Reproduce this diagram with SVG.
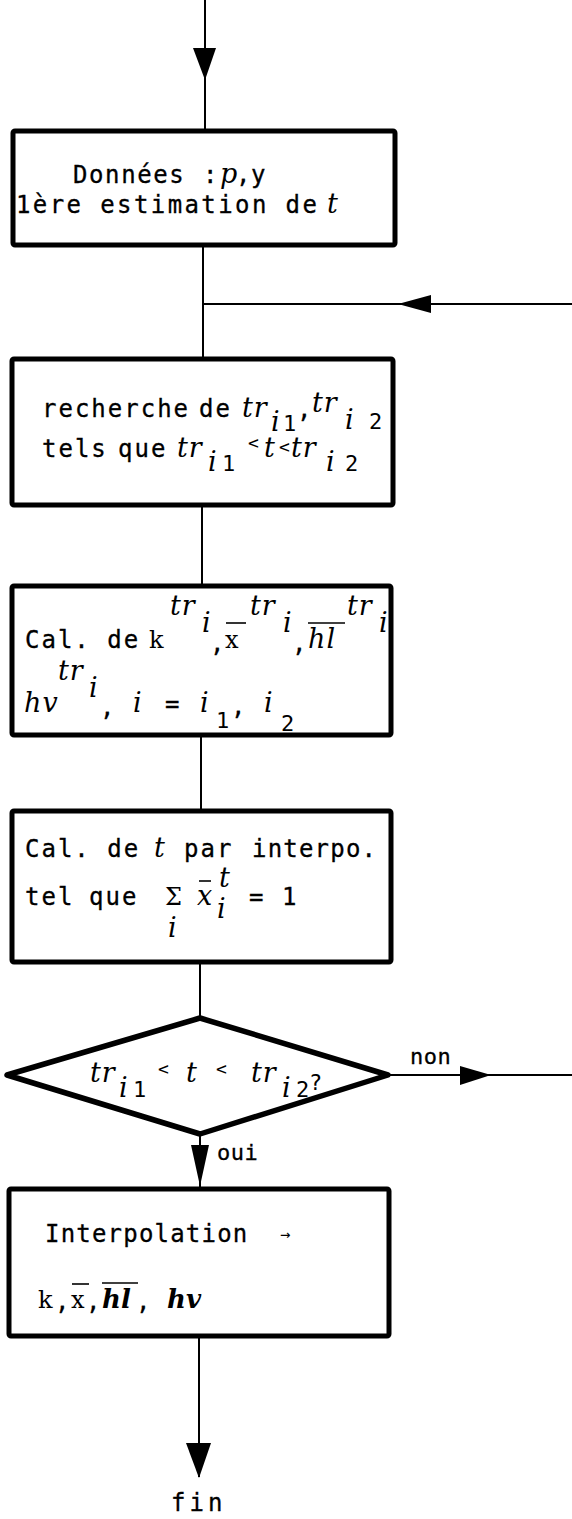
<svg xmlns="http://www.w3.org/2000/svg" width="572" height="1519" viewBox="0 0 572 1519">
<style>
.box{fill:#fff;stroke:#000;stroke-width:5;stroke-linejoin:round}
.ln{fill:none;stroke:#000;stroke-width:2}
.ah{fill:#000;stroke:none}
.bar{stroke:#000;stroke-width:1.6}
.m{font-family:"DejaVu Sans Mono",monospace;font-size:24px;letter-spacing:2px;fill:#000;stroke:#000;stroke-width:0.3}
.i{font-family:"DejaVu Serif",serif;font-style:italic;font-size:27px;letter-spacing:1px;fill:#000}
.r{font-family:"DejaVu Serif",serif;font-size:24px;fill:#000}
.sb{font-family:"DejaVu Sans Mono",monospace;font-size:22px;fill:#000}
.bi{font-family:"DejaVu Serif",serif;font-style:italic;font-weight:bold;font-size:26px;fill:#000}
.c{letter-spacing:0}
</style>
<rect width="572" height="1519" fill="#fff"/>
<g id="connectors">
<line class="ln" x1="205" y1="0" x2="205" y2="131"/>
<polygon class="ah" points="193,48 216,48 205,80"/>
<line class="ln" x1="203" y1="245" x2="203" y2="359"/>
<line class="ln" x1="572" y1="304" x2="203" y2="304"/>
<polygon class="ah" points="398,304 431,295 431,313"/>
<line class="ln" x1="202" y1="505" x2="202" y2="586"/>
<line class="ln" x1="201" y1="735" x2="201" y2="811"/>
<line class="ln" x1="200" y1="962" x2="200" y2="1018"/>
<line class="ln" x1="200" y1="1134" x2="200" y2="1189"/>
<polygon class="ah" points="191,1145 209,1145 200,1186"/>
<text class="m" x="217" y="1160" style="font-size:22px;letter-spacing:0.5px">oui</text>
<line class="ln" x1="388" y1="1075" x2="572" y2="1075"/>
<polygon class="ah" points="460,1066 460,1085 491,1075"/>
<text class="m" x="410" y="1064" style="font-size:22px;letter-spacing:0.5px">non</text>
<line class="ln" x1="199" y1="1336" x2="199" y2="1477"/>
<polygon class="ah" points="186,1443 211,1443 199,1478"/>
</g>
<g id="start-data">
<rect class="box" x="13" y="131" width="382" height="114" rx="2"/>
<text class="m" x="73" y="183" style="letter-spacing:1.6px">Données</text>
<text class="m" x="203" y="183">:</text>
<text class="i" x="220" y="183">p</text>
<text class="m c" x="236" y="183">,</text>
<text class="m" x="251" y="183">y</text>
<text class="m" x="16" y="213" style="letter-spacing:2.4px">1ère estimation de</text>
<text class="i" x="327" y="213">t</text>
</g>
<g id="search">
<rect class="box" x="12" y="359" width="381" height="146" rx="2"/>
<text class="m" x="42" y="417">recherche</text>
<text class="m" x="199" y="417">de</text>
<text class="i" x="242" y="417">tr</text>
<text class="i" x="271" y="431">i</text>
<text class="sb" x="283" y="431">1</text>
<text class="m c" x="297" y="418">,</text>
<text class="i" x="312" y="412">tr</text>
<text class="i" x="345" y="429">i</text>
<text class="sb" x="369" y="429">2</text>
<text class="m" x="42" y="457">tels</text>
<text class="m" x="118" y="457">que</text>
<text class="i" x="177" y="457">tr</text>
<text class="i" x="208" y="471">i</text>
<text class="sb" x="222" y="471">1</text>
<text class="sb" x="248" y="449" style="font-size:18px">&lt;</text>
<text class="i" x="264" y="457">t</text>
<text class="sb" x="279" y="453" style="font-size:18px">&lt;</text>
<text class="i" x="291" y="457">tr</text>
<text class="i" x="326" y="471">i</text>
<text class="sb" x="345" y="471">2</text>
</g>
<g id="compute-props">
<rect class="box" x="12" y="586" width="379" height="149" rx="2"/>
<text class="m" x="25" y="648">Cal. de</text>
<text class="r" x="149" y="648">k</text>
<text class="i" x="170" y="615">tr</text>
<text class="i" x="202" y="632">i</text>
<text class="m c" x="210" y="652">,</text>
<text class="r" x="225" y="648">x</text>
<line class="bar" x1="226" y1="623" x2="246" y2="623"/>
<text class="i" x="250" y="615">tr</text>
<text class="i" x="283" y="632">i</text>
<text class="m c" x="292" y="652">,</text>
<text class="i" x="308" y="648">hl</text>
<line class="bar" x1="308" y1="623" x2="345" y2="623"/>
<text class="i" x="347" y="615">tr</text>
<text class="i" x="379" y="632">i</text>
<text class="i" x="58" y="680">tr</text>
<text class="i" x="89" y="697">i</text>
<text class="i" x="24" y="712">hv</text>
<text class="m c" x="100" y="716">,</text>
<text class="i" x="133" y="712">i</text>
<text class="m" x="165" y="712">=</text>
<text class="i" x="200" y="712">i</text>
<text class="sb" x="216" y="728">1</text>
<text class="m c" x="231" y="715">,</text>
<text class="i" x="264" y="712">i</text>
<text class="sb" x="281" y="731">2</text>
</g>
<g id="interpolate-t">
<rect class="box" x="12" y="811" width="379" height="151" rx="2"/>
<text class="m" x="25" y="857">Cal. de</text>
<text class="i" x="154" y="857">t</text>
<text class="m" x="184" y="857">par</text>
<text class="m" x="252" y="857" style="letter-spacing:1.2px">interpo.</text>
<text class="m" x="25" y="905">tel</text>
<text class="m" x="89" y="905">que</text>
<text class="r" x="165" y="905">Σ</text>
<text class="i" x="197" y="905">x</text>
<line class="bar" x1="199" y1="881" x2="211" y2="881"/>
<text class="i" x="219" y="887">t</text>
<text class="i" x="217" y="918">i</text>
<text class="i" x="168" y="937">i</text>
<text class="m" x="249" y="905">=</text>
<text class="m" x="282" y="905">1</text>
</g>
<g id="decision">
<polygon points="7,1075 200,1018 388,1075 200,1134" fill="#fff" stroke="#000" stroke-width="5.5" stroke-linejoin="round"/>
<text class="i" x="90" y="1082">tr</text>
<text class="i" x="119" y="1097">i</text>
<text class="sb" x="133" y="1097">1</text>
<text class="sb" x="158" y="1075" style="font-size:18px">&lt;</text>
<text class="i" x="186" y="1082">t</text>
<text class="sb" x="216" y="1075" style="font-size:18px">&lt;</text>
<text class="i" x="251" y="1082">tr</text>
<text class="i" x="282" y="1097">i</text>
<text class="sb" x="296" y="1097">2</text>
<text class="sb" x="309" y="1090">?</text>
</g>
<g id="interpolation">
<rect class="box" x="9" y="1189" width="380" height="147" rx="2"/>
<text class="m" x="45" y="1242" style="letter-spacing:1.2px">Interpolation</text>
<text class="sb" x="280" y="1240" style="font-size:17px">→</text>
<text class="r" x="38" y="1308">k</text>
<text class="m c" x="55" y="1310">,</text>
<text class="r" x="71" y="1308">x</text>
<line class="bar" x1="72" y1="1284" x2="89" y2="1284"/>
<text class="m c" x="86" y="1310">,</text>
<text class="bi" x="102" y="1308">hl</text>
<line class="bar" x1="102" y1="1283" x2="138" y2="1283"/>
<text class="m c" x="136" y="1310">,</text>
<text class="bi" x="167" y="1308">hv</text>
</g>
<g id="end">
<text class="m" x="171" y="1511" style="letter-spacing:4px">fin</text>
</g>
</svg>
